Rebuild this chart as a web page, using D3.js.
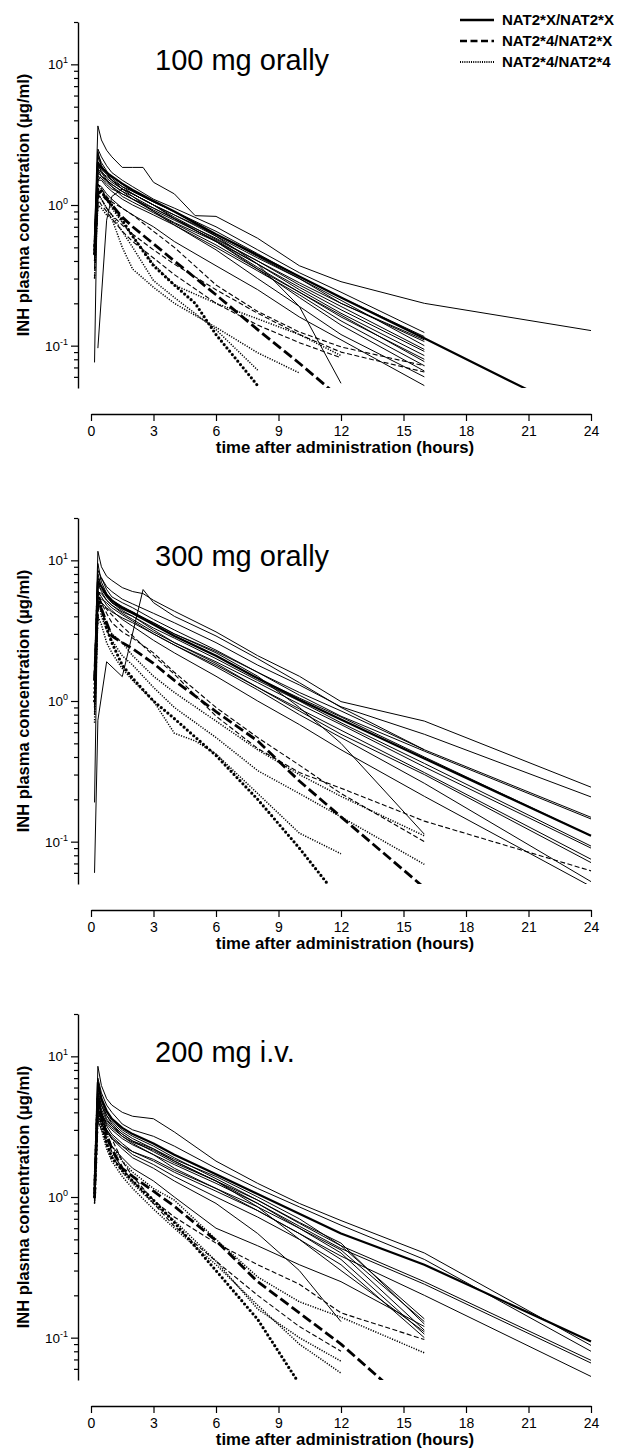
<!DOCTYPE html>
<html>
<head>
<meta charset="utf-8">
<script src="https://cdn.jsdelivr.net/npm/d3@7"></script>
<style>
  body { margin: 0; background: #fff; }
  svg { display: block; font-family: "Liberation Sans", Arial, sans-serif; }
</style>
</head>
<body>
<script>
var n = null;

// sampling times (hours); null = not measured
var hours = [0.17, 0.33, 0.5, 0.75, 1, 1.5, 2, 2.5, 3, 4, 5, 6, 8, 10, 12, 16, 24];

var panelTitles = ["100 mg orally", "300 mg orally", "200 mg i.v."];
var xTicks = [0, 3, 6, 9, 12, 15, 18, 21, 24];
var yMajor = [0.1, 1, 10];
var yExponent = ["-1", "0", "1"];
var yMinor = [0.06, 0.07, 0.08, 0.09, 0.2, 0.3, 0.4, 0.5, 0.6, 0.7, 0.8, 0.9, 2, 3, 4, 5, 6, 7, 8, 9, 20];
var legendLabels = ["NAT2*X/NAT2*X", "NAT2*4/NAT2*X", "NAT2*4/NAT2*4"];

// ---- 100 mg orally
var oral100_XX = [
  [0.6, 3.65, 2.9, 2.45, 2.2, 1.85, 1.85, 1.85, 1.45, 1.2, 0.84, 0.83, 0.58, 0.37, 0.285, 0.2, 0.128],
  [0.45, 2.5, 2.2, 1.9, 1.7, 1.5, 1.35, n, 1.1, 0.95, n, 0.7, 0.48, 0.33, 0.24, 0.124, n],
  [0.5, 2.4, 1.9, 1.7, 1.6, 1.4, 1.25, n, 1.05, 0.9, n, 0.65, 0.45, 0.31, 0.22, 0.116, n],
  [0.62, 2.0, 1.8, 1.65, 1.5, 1.3, 1.2, n, 1.0, 0.85, n, 0.6, 0.42, 0.3, 0.2, 0.107, n],
  [0.4, 1.7, 1.6, 1.5, 1.4, 1.25, 1.15, n, 0.95, 0.8, n, 0.58, 0.4, 0.27, 0.19, 0.094, n],
  [0.55, 1.6, 1.55, 1.4, 1.3, 1.2, 1.1, n, 0.9, 0.75, n, 0.55, 0.38, 0.26, 0.18, 0.091, n],
  [0.076, 2.0, 1.7, 1.5, 1.4, 1.25, 1.1, n, 0.95, 0.8, n, 0.55, 0.36, 0.24, 0.16, 0.08, n],
  [0.45, 1.5, 1.5, 1.35, 1.25, 1.1, 1.0, n, 0.85, 0.72, n, 0.5, 0.34, 0.23, 0.15, 0.072, n],
  [n, 0.096, n, 0.78, 1.15, 1.3, 1.2, n, 1.0, 0.8, n, 0.55, 0.35, 0.22, 0.14, 0.066, n],
  [0.5, 2.2, 1.9, 1.7, 1.5, 1.3, 1.15, n, 0.9, 0.72, n, 0.48, 0.3, 0.19, 0.12, 0.06, n],
  [0.6, 1.4, 1.35, 1.2, 1.1, 0.95, 0.85, n, 0.7, 0.55, n, 0.37, 0.25, 0.16, 0.11, 0.052, n],
  [0.5, 1.8, 1.7, 1.6, 1.5, 1.35, 1.25, n, 1.05, 0.9, n, 0.6, 0.38, 0.19, 0.054, n, n],
  [0.35, 1.9, 1.75, 1.55, 1.45, 1.3, 1.2, n, 1.0, 0.85, n, 0.62, 0.43, 0.3, 0.21, 0.1, n],
  [0.5, 1.5, 1.6, 1.5, 1.35, 1.2, 1.1, n, 0.92, 0.78, n, 0.56, 0.38, 0.25, 0.17, 0.085, n],
  [0.42, 2.3, 2.0, 1.75, 1.55, 1.35, 1.2, n, 1.0, 0.82, n, 0.57, 0.4, 0.28, 0.2, 0.11, n],
  [0.58, 1.8, 1.6, 1.45, 1.35, 1.15, 1.05, n, 0.88, 0.74, n, 0.52, 0.35, 0.24, 0.165, 0.077, n]
];
var oral100_4X = [
  [0.4, 1.4, 1.3, 1.15, 1.05, 0.95, 0.85, n, 0.65, 0.5, n, 0.27, 0.175, 0.125, 0.098, 0.072, n],
  [0.3, 1.1, 1.0, 0.9, 0.8, 0.65, 0.55, n, 0.42, 0.32, n, 0.2, 0.14, 0.105, 0.082, n, n],
  [0.45, 1.2, 1.1, 0.95, 0.85, 0.72, 0.62, n, 0.48, 0.38, n, 0.25, 0.17, 0.12, 0.09, 0.065, n]
];
var oral100_44 = [
  [0.3, 1.0, 0.95, 0.85, 0.8, 0.5, 0.35, n, 0.26, 0.2, n, 0.135, 0.089, 0.064, n, n, n],
  [0.4, 1.2, 1.1, 0.95, 0.85, 0.65, 0.5, n, 0.29, 0.22, n, 0.13, 0.067, n, n, n, n],
  [0.5, 1.4, 1.3, 1.1, 0.95, 0.75, 0.6, n, 0.38, 0.27, n, 0.2, 0.155, 0.12, 0.085, n, n]
];
// group means (bold lines): XX, 4X, 44
var oral100_means = [
  [0.5, 2.0, 1.85, 1.7, 1.6, 1.42, 1.28, n, 1.07, 0.9, n, 0.62, 0.44, 0.31, 0.22, 0.113, 0.029],
  [0.45, 1.25, 1.2, 1.1, 1.0, 0.82, 0.7, n, 0.53, 0.4, n, 0.23, 0.13, 0.075, 0.042, n, n],
  [0.45, 1.3, 1.25, 1.1, 1.0, 0.78, 0.6, n, 0.37, 0.27, 0.2, 0.12, 0.052, n, n, n, n]
];

// ---- 300 mg orally
var oral300_XX = [
  [1.5, 11.6, 9.0, 7.7, 7.2, 6.4, 6.0, 5.8, 5.2, 4.35, n, 3.1, 2.1, 1.5, 0.99, 0.72, 0.244],
  [1.3, 8.5, 7.5, 6.5, 6.0, 5.3, 4.9, n, 4.2, 3.6, n, 2.6, 1.8, 1.3, 0.91, 0.58, 0.208],
  [0.9, 7.0, 7.5, 6.2, 5.5, 5.0, 4.6, n, 3.8, 3.2, n, 2.3, 1.6, 1.15, 0.85, 0.45, 0.149],
  [1.4, 6.5, 6.2, 5.5, 5.0, 4.6, 4.3, n, 3.5, 2.9, n, 2.1, 1.45, 1.05, 0.77, 0.4, 0.11],
  [0.19, 6.0, 5.8, 5.2, 4.8, 4.3, 4.0, n, 3.3, 2.8, n, 2.0, 1.4, 1.0, 0.7, 0.36, 0.093],
  [1.1, 9.5, 7.0, 5.8, 5.0, 4.4, 4.0, n, 3.2, 2.6, n, 1.85, 1.25, 0.85, 0.58, 0.3, 0.071],
  [0.8, 5.0, 5.3, 5.0, 4.6, 4.1, 3.7, n, 3.0, 2.5, n, 1.75, 1.2, 0.8, 0.55, 0.26, 0.052],
  [1.2, 7.5, 6.5, 5.5, 5.0, 4.5, 4.2, n, 3.6, 3.0, n, 2.2, 1.5, 0.9, 0.5, 0.113, n],
  [0.06, 0.73, n, 1.9, n, 1.49, n, 6.2, 5.0, 4.0, n, 2.9, 2.0, 1.35, 0.9, 0.45, n],
  [1.45, 7.0, 6.0, 5.2, 4.8, 4.2, 3.8, n, 3.1, 2.6, n, 1.9, 1.35, 0.95, 0.68, 0.34, 0.09],
  [1.5, 5.5, 5.0, 4.6, 4.3, 3.9, 3.6, n, 3.0, 2.5, n, 1.8, 1.25, 0.88, 0.62, 0.31, 0.075],
  [0.9, 8.0, 6.5, 5.6, 5.2, 4.7, 4.3, n, 3.6, 3.0, n, 2.25, 1.6, 1.1, 0.78, 0.44, 0.145],
  [1.2, 6.0, 5.5, 4.8, 4.4, 3.8, 3.4, n, 2.7, 2.2, n, 1.5, 1.0, 0.68, 0.45, 0.21, 0.048]
];
var oral300_4X = [
  [1.0, 4.5, 5.0, 4.5, 4.1, 3.4, 2.9, n, 2.1, 1.55, n, 0.78, 0.46, 0.31, 0.24, 0.14, 0.062],
  [1.2, 6.0, 5.0, 4.2, 3.6, 3.1, 2.8, n, 2.2, 1.6, n, 0.9, 0.55, 0.35, 0.22, 0.1, n]
];
var oral300_44 = [
  [0.8, 4.0, 3.5, 2.6, 2.2, 1.7, 1.4, n, 1.0, 0.59, 0.52, 0.42, 0.22, 0.115, 0.082, n, n],
  [0.7, 5.0, 4.5, 3.5, 3.0, 2.6, 2.1, n, 1.5, 1.15, n, 0.72, 0.45, 0.3, 0.21, 0.11, n],
  [0.9, 5.5, 4.0, 3.2, 2.7, 2.1, 1.8, n, 1.25, 0.9, n, 0.55, 0.32, 0.22, 0.15, 0.069, n]
];
var oral300_means = [
  [1.4, 7.0, 6.5, 5.7, 5.2, 4.6, 4.2, n, 3.5, 2.9, n, 2.1, 1.45, 1.02, 0.74, 0.39, 0.11],
  [1.4, 5.0, 4.5, 3.6, 2.9, 2.6, 2.35, n, 1.85, 1.4, n, 0.84, 0.52, 0.27, 0.15, 0.047, n],
  [1.0, 6.0, 4.5, 3.3, 2.6, 1.8, 1.45, n, 1.0, 0.75, n, 0.41, 0.2, 0.09, 0.038, n, n]
];

// ---- 200 mg i.v.
var iv200_XX = [
  [1.0, 8.5, 6.2, 5.0, 4.5, 4.0, 3.75, n, 3.6, 2.9, n, 1.8, 1.25, 0.9, 0.68, 0.4, 0.088],
  [1.2, 7.0, 5.5, 4.5, 4.0, 3.3, 3.0, n, 2.7, 2.3, n, 1.6, 1.15, 0.85, 0.63, 0.36, 0.08],
  [0.95, 6.5, 5.0, 4.0, 3.5, 3.0, 2.7, n, 2.3, 1.9, n, 1.35, 0.95, 0.65, 0.45, 0.25, 0.069],
  [1.1, 6.0, 4.8, 3.8, 3.4, 2.9, 2.6, n, 2.2, 1.8, n, 1.3, 0.9, 0.62, 0.43, 0.24, 0.066],
  [0.9, 5.5, 4.5, 3.6, 3.2, 2.7, 2.4, n, 2.0, 1.6, n, 1.15, 0.8, 0.55, 0.38, 0.2, 0.053],
  [1.0, 5.0, 4.2, 3.5, 3.2, 2.8, 2.5, n, 2.2, 1.85, n, 1.4, 1.0, 0.7, 0.45, 0.136, n],
  [1.3, 4.5, 4.0, 3.3, 3.0, 2.6, 2.35, n, 2.0, 1.7, n, 1.25, 0.9, 0.6, 0.4, 0.113, n],
  [0.95, 4.8, 4.0, 3.2, 2.8, 2.4, 2.1, n, 1.8, 1.5, n, 1.1, 0.8, 0.55, 0.36, 0.106, n],
  [1.0, 4.0, 3.6, 3.0, 2.7, 2.3, 2.0, n, 1.7, 1.4, n, 1.0, 0.72, 0.5, 0.33, 0.1, n],
  [1.4, 5.5, 4.5, 3.8, 3.3, 2.8, 2.5, n, 2.1, 1.75, n, 1.3, 0.85, 0.5, 0.3, 0.11, n],
  [1.0, 4.2, 3.5, 3.0, 2.6, 2.2, 1.9, n, 1.6, 1.3, n, 0.9, 0.55, 0.3, 0.13, n, n],
  [1.2, 3.5, 3.0, 2.6, 2.3, 1.9, 1.6, n, 1.3, 1.0, n, 0.6, 0.45, 0.33, 0.25, 0.12, n],
  [1.05, 3.8, 3.3, 2.9, 2.6, 2.3, 2.1, n, 1.85, 1.55, n, 1.15, 0.85, 0.6, 0.42, 0.13, n],
  [0.92, 4.6, 3.9, 3.4, 3.1, 2.7, 2.45, n, 2.15, 1.8, n, 1.3, 0.95, 0.66, 0.47, 0.125, n]
];
var iv200_4X = [
  [1.1, 5.5, 4.0, 3.0, 2.6, 1.8, 1.4, n, 0.95, 0.72, n, 0.47, 0.33, 0.24, 0.15, 0.097, n],
  [0.9, 4.5, 3.5, 2.6, 2.1, 1.6, 1.3, n, 0.9, 0.62, n, 0.35, 0.2, 0.12, 0.08, n, n]
];
var iv200_44 = [
  [1.2, 6.0, 4.0, 2.8, 2.3, 1.8, 1.5, n, 1.15, 0.95, n, 0.5, 0.27, 0.18, 0.14, 0.078, n],
  [0.9, 4.5, 3.2, 2.4, 2.0, 1.5, 1.25, n, 0.9, 0.68, n, 0.35, 0.16, 0.1, 0.068, n, n],
  [1.0, 4.0, 3.0, 2.2, 1.8, 1.4, 1.15, n, 0.82, 0.6, n, 0.33, 0.17, 0.09, 0.056, n, n]
];
var iv200_means = [
  [1.1, 6.5, 5.0, 4.1, 3.6, 3.1, 2.8, n, 2.4, 2.0, n, 1.45, 1.05, 0.76, 0.55, 0.33, 0.094],
  [1.0, 5.0, 3.8, 2.8, 2.2, 1.6, 1.4, n, 1.1, 0.86, n, 0.49, 0.25, 0.15, 0.09, 0.027, n],
  [1.0, 5.0, 3.5, 2.4, 1.9, 1.55, 1.3, n, 0.95, 0.66, n, 0.3, 0.135, 0.047, n, n, n]
];

var panels = [
  {title: panelTitles[0], groups: [oral100_XX, oral100_4X, oral100_44], means: oral100_means},
  {title: panelTitles[1], groups: [oral300_XX, oral300_4X, oral300_44], means: oral300_means},
  {title: panelTitles[2], groups: [iv200_XX, iv200_4X, iv200_44], means: iv200_means}
];

var dim = {
  width: 627,
  height: 1452,
  panelStep: 496,
  yAxisX: 78,
  plotTop: 22,
  plotBottom: 388,
  xLeft: 91,
  xRight: 591,
  xAxisY: 414,
  titleX: 155,
  titleY: 70
};

// line styles per genotype: thin individual lines and bold mean lines
var thinStyle = [
  {w: 1, dash: null},
  {w: 1.1, dash: "5,2.5"},
  {w: 1.5, dash: "1.2,1.4"}
];
var boldStyle = [
  {w: 2.2, dash: null, cap: "butt"},
  {w: 2.8, dash: "10,4", cap: "butt"},
  {w: 3.2, dash: "0,4.3", cap: "round"}
];

var svg = d3.select("body").append("svg")
  .attr("width", dim.width)
  .attr("height", dim.height);

var x = d3.scaleLinear().domain([0, 24]).range([dim.xLeft, dim.xRight]);
var y = d3.scaleLog().domain([0.05, 20]).range([dim.plotBottom, dim.plotTop]);

var line = d3.line()
  .x(function(d) { return x(d[0]); })
  .y(function(d) { return y(d[1]); });

function toPoints(row) {
  var pts = [];
  row.forEach(function(v, i) {
    if (v !== null) pts.push([hours[i], v]);
  });
  return pts;
}

panels.forEach(function(p, pi) {
  var g = svg.append("g").attr("transform", "translate(0," + (pi * dim.panelStep) + ")");

  g.append("clipPath").attr("id", "clip" + pi)
    .append("rect")
    .attr("x", dim.yAxisX)
    .attr("y", dim.plotTop)
    .attr("width", dim.width - dim.yAxisX)
    .attr("height", dim.plotBottom - dim.plotTop);

  var plot = g.append("g").attr("clip-path", "url(#clip" + pi + ")");

  p.groups.forEach(function(rows, gi) {
    var st = thinStyle[gi];
    plot.selectAll(".s" + gi)
      .data(rows)
      .enter().append("path")
      .attr("class", "s" + gi)
      .attr("d", function(r) { return line(toPoints(r)); })
      .attr("fill", "none")
      .attr("stroke", "#000")
      .attr("stroke-width", st.w)
      .attr("stroke-dasharray", st.dash)
      .attr("stroke-linejoin", "round");
  });

  plot.selectAll(".mean")
    .data(p.means)
    .enter().append("path")
    .attr("class", "mean")
    .attr("d", function(r) { return line(toPoints(r)); })
    .attr("fill", "none")
    .attr("stroke", "#000")
    .attr("stroke-width", function(r, i) { return boldStyle[i].w; })
    .attr("stroke-dasharray", function(r, i) { return boldStyle[i].dash; })
    .attr("stroke-linecap", function(r, i) { return boldStyle[i].cap; })
    .attr("stroke-linejoin", "round");

  // y axis: major + minor ticks
  var yAx = g.append("g").attr("transform", "translate(" + dim.yAxisX + ",0)");
  yAx.call(d3.axisLeft(y).tickValues(yMajor).tickSize(7).tickSizeOuter(0).tickFormat(""));
  var yMin = g.append("g").attr("transform", "translate(" + dim.yAxisX + ",0)");
  yMin.call(d3.axisLeft(y).tickValues(yMinor).tickSize(4).tickSizeOuter(0).tickFormat(""));
  yMin.select(".domain").remove();
  g.selectAll(".tick line").attr("stroke-width", 1.2);
  g.selectAll(".domain").attr("stroke-width", 1.4);

  yMajor.forEach(function(v, i) {
    var t = g.append("text")
      .attr("x", 68)
      .attr("y", y(v) + 5)
      .attr("text-anchor", "end")
      .style("font-size", "13.5px");
    t.append("tspan").text("10");
    t.append("tspan").attr("dy", -6).style("font-size", "9px").text(yExponent[i]);
  });

  // x axis sits below the plot
  var xAx = g.append("g").attr("transform", "translate(0," + dim.xAxisY + ")")
    .call(d3.axisBottom(x).tickValues(xTicks).tickSize(7).tickSizeOuter(0).tickPadding(5));
  xAx.selectAll("text").style("font-size", "14px").attr("fill", "#000");
  xAx.selectAll("line").attr("stroke-width", 1.2);
  xAx.select(".domain").attr("stroke-width", 1.4);

  g.append("text")
    .attr("x", 345)
    .attr("y", 453)
    .attr("text-anchor", "middle")
    .style("font-weight", "bold")
    .style("font-size", "16.8px")
    .text("time after administration (hours)");

  g.append("text")
    .attr("transform", "translate(29,205) rotate(-90)")
    .attr("text-anchor", "middle")
    .style("font-weight", "bold")
    .style("font-size", "16.5px")
    .text("INH plasma concentration (\u00b5g/ml)");

  g.append("text")
    .attr("x", dim.titleX)
    .attr("y", dim.titleY)
    .style("font-size", "29px")
    .text(p.title);
});

// legend, top right
var legendY = [20, 41, 62];
var legendStyle = [
  {w: 2.4, dash: null},
  {w: 2.4, dash: "7,3.5"},
  {w: 2, dash: "1,1.2"}
];
var legend = svg.append("g");
legendLabels.forEach(function(lbl, i) {
  legend.append("line")
    .attr("x1", 460).attr("x2", 494)
    .attr("y1", legendY[i]).attr("y2", legendY[i])
    .attr("stroke", "#000")
    .attr("stroke-width", legendStyle[i].w)
    .attr("stroke-dasharray", legendStyle[i].dash);
  legend.append("text")
    .attr("x", 502)
    .attr("y", legendY[i] + 5)
    .style("font-weight", "bold")
    .style("font-size", "15px")
    .text(lbl);
});
</script>
</body>
</html>
